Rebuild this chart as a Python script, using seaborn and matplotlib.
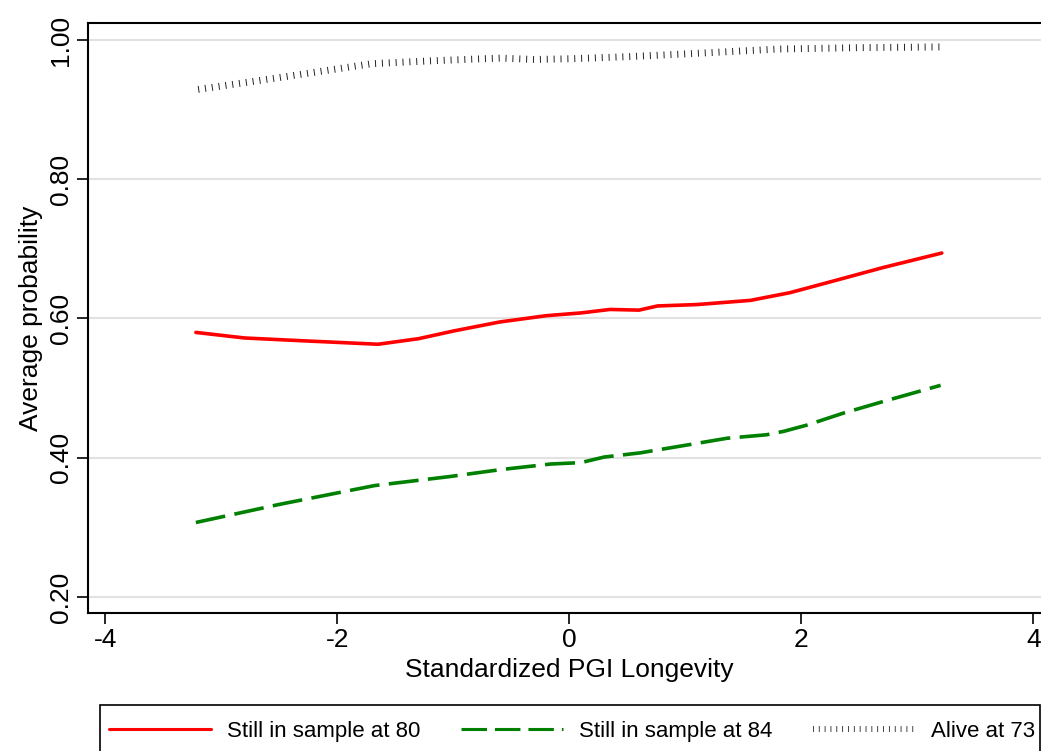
import matplotlib
matplotlib.use("Agg")
import matplotlib.pyplot as plt
from matplotlib.patches import Rectangle
import seaborn as sns

# Average predicted probabilities by standardized PGI
red_x = [-3.22, -2.8, -2.3, -1.65, -1.3, -1.0, -0.6, -0.2, 0.1, 0.35, 0.6, 0.76,
         1.1, 1.56, 1.9, 2.28, 2.7, 3.21]
red_y = [0.580, 0.572, 0.568, 0.563, 0.571, 0.582, 0.595, 0.604, 0.608, 0.613, 0.612, 0.618,
         0.620, 0.626, 0.637, 0.654, 0.673, 0.694]

green_x = [-3.22, -2.5, -1.68, -1.03, -0.59, -0.16, 0.1, 0.3, 0.61, 1.04, 1.36, 1.7,
           1.85, 2.05, 2.36, 2.71, 3.2]
green_y = [0.307, 0.333, 0.360, 0.373, 0.383, 0.391, 0.393, 0.401, 0.407, 0.419, 0.428, 0.433,
           0.438, 0.447, 0.464, 0.481, 0.504]

dot_x = [-3.2, -2.5, -1.7, -1.2, -0.6, -0.3, 0.0, 0.5, 1.0, 1.8, 2.5, 3.2]
dot_y = [0.929, 0.946, 0.966, 0.970, 0.974, 0.972, 0.973, 0.976, 0.980, 0.987, 0.989, 0.990]

labels = ["Still in sample at 80", "Still in sample at 84", "Alive at 73"]
yticks = [0.2, 0.4, 0.6, 0.8, 1.0]
xticks = [-4, -2, 0, 2, 4]

sns.set_style("white")
plt.rcParams["font.family"] = ["Liberation Sans", "DejaVu Sans"]
plt.rcParams["text.color"] = "black"
plt.rcParams["axes.labelcolor"] = "black"
plt.rcParams["xtick.color"] = "black"
plt.rcParams["ytick.color"] = "black"

W, H = 1041, 751
fig = plt.figure(figsize=(W / 100, H / 100), dpi=100)
ax = fig.add_axes([88 / W, 1 - 613 / H, 962.8 / W, 590 / H])

sns.lineplot(x=red_x, y=red_y, ax=ax, color="#ff0000", lw=2.6, label=labels[0])
sns.lineplot(x=green_x, y=green_y, ax=ax, color="#008000", lw=2.6, label=labels[1])
ax.lines[-1].set_dashes((8.3, 2.6))
sns.lineplot(x=dot_x, y=dot_y, ax=ax, color="#222222", lw=5, label=labels[2])
ax.lines[-1].set_dashes((0.14, 0.85))
ax.lines[-1].set_dash_capstyle("butt")

ax.set_xlim(-4.15, 4.15)
ax.set_ylim(0.177, 1.0244)
ax.set_xticks(xticks)
ax.set_xticklabels([f"{t:g}" for t in xticks])
ax.set_yticks(yticks)
ax.set_yticklabels([f"{t:.2f}" for t in yticks], rotation=90, va="center")
ax.yaxis.grid(True, color="#e2e2e2", lw=1.5)
ax.set_axisbelow(True)

for s in ["left", "bottom", "top"]:
    ax.spines[s].set_color("black")
    ax.spines[s].set_linewidth(1.5)
ax.spines["right"].set_visible(False)

ax.tick_params(axis="both", which="major", direction="out", length=8, width=1.2,
               color="black", labelcolor="black", labelsize=19, pad=3,
               left=True, bottom=True)
ax.set_xlabel("Standardized PGI Longevity", fontsize=19, labelpad=4)
ax.set_ylabel("Average probability", fontsize=19, labelpad=4)

handles, labs = ax.get_legend_handles_labels()
ax.get_legend().remove()
leg = fig.legend(handles, labs, loc="upper left", ncol=3,
                 bbox_to_anchor=(100 / W, 1 - 712 / H),
                 borderaxespad=0, fontsize=16, frameon=False,
                 handlelength=4.6, handletextpad=0.7, columnspacing=1.85,
                 borderpad=0.4)
for h in leg.get_lines():
    h.set_linewidth(h.get_linewidth() * 0.85)

# legend frame runs past the bottom edge of the image
fig.patches.append(Rectangle((100 / W, -0.05), 940 / W, 0.05 + 46 / H,
                             transform=fig.transFigure, fill=False,
                             edgecolor="black", lw=1.2))

fig.savefig("out.png", dpi=100)
